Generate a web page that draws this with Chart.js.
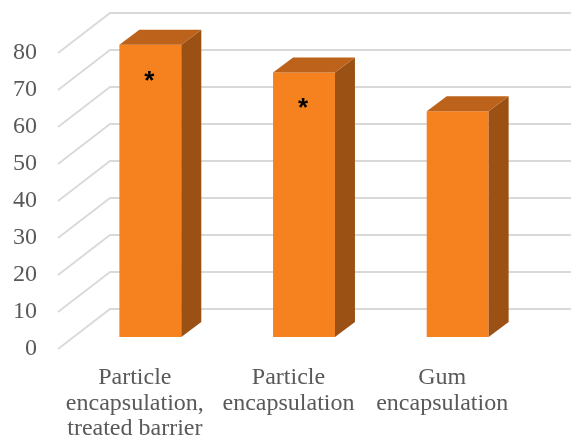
<!DOCTYPE html>
<html>
<head>
<meta charset="utf-8">
<script src="https://cdn.jsdelivr.net/npm/chart.js@4/dist/chart.umd.min.js"></script>
<style>
  html, body { margin: 0; padding: 0; background: #ffffff; }
  #wrap { width: 571px; height: 440px; }
</style>
</head>
<body>
<div id="wrap"><canvas id="c" width="571" height="440"></canvas></div>
<script>
// Categories (multi-line axis labels)
const categories = [
  ['Particle', 'encapsulation,', 'treated barrier'],
  ['Particle', 'encapsulation'],
  ['Gum', 'encapsulation']
];
// Bar heights
const values = [79, 71.5, 61];
// Significance markers printed on the bars
const significance = ['*', '*', ''];
// Value axis ticks
const yTicks = [0, 10, 20, 30, 40, 50, 60, 70, 80];

const FRONT = '#F5821F';
const TOP = '#BC621A';
const SIDE = '#9B5114';
const GRID = '#D9D9D9';
const TEXT = '#595959';
const LABEL_FONT = { family: "'Liberation Serif', 'Times New Roman', serif", size: 24, lineHeight: 1.07 };

const WALL = { dx: 52, dy: -40 };        // offset of the back wall from the front plane
const BAR_SHIFT = { dx: 15.5, dy: -12 }; // bars stand slightly behind the front plane
const BAR_DEPTH = { dx: 20, dy: -15 };   // thickness of each bar

const threeD = {
  id: 'threeD',
  beforeDatasetsDraw(chart) {
    const ctx = chart.ctx;
    const area = chart.chartArea;
    const y = chart.scales.y;
    ctx.save();
    ctx.strokeStyle = GRID;
    ctx.lineWidth = 1.8;
    yTicks.forEach(v => {
      const py = y.getPixelForValue(v);
      ctx.beginPath();
      ctx.moveTo(area.left, py);
      ctx.lineTo(area.left + WALL.dx, py + WALL.dy);
      ctx.lineTo(area.right + WALL.dx, py + WALL.dy);
      ctx.stroke();
    });
    ctx.restore();
    ctx.save();
    ctx.translate(BAR_SHIFT.dx, BAR_SHIFT.dy);
  },
  afterDatasetsDraw(chart) {
    const ctx = chart.ctx;
    ctx.restore();
    const meta = chart.getDatasetMeta(0);
    meta.data.forEach((bar, i) => {
      const p = bar.getProps(['x', 'y', 'base', 'width'], true);
      const l = p.x - p.width / 2 + BAR_SHIFT.dx;
      const r = p.x + p.width / 2 + BAR_SHIFT.dx;
      const t = p.y + BAR_SHIFT.dy;
      const b = p.base + BAR_SHIFT.dy;
      // right side face
      ctx.fillStyle = SIDE;
      ctx.beginPath();
      ctx.moveTo(r, t);
      ctx.lineTo(r + BAR_DEPTH.dx, t + BAR_DEPTH.dy);
      ctx.lineTo(r + BAR_DEPTH.dx, b + BAR_DEPTH.dy);
      ctx.lineTo(r, b);
      ctx.closePath();
      ctx.fill();
      // top face
      ctx.fillStyle = TOP;
      ctx.beginPath();
      ctx.moveTo(l, t);
      ctx.lineTo(l + BAR_DEPTH.dx, t + BAR_DEPTH.dy);
      ctx.lineTo(r + BAR_DEPTH.dx, t + BAR_DEPTH.dy);
      ctx.lineTo(r, t);
      ctx.closePath();
      ctx.fill();
      // significance marker
      const mark = significance[i];
      if (mark) {
        ctx.save();
        ctx.font = "bold 26px 'Liberation Sans', Arial, sans-serif";
        ctx.fillStyle = '#000000';
        ctx.textAlign = 'center';
        ctx.textBaseline = 'alphabetic';
        const m = ctx.measureText(mark);
        const cy = t + 31;
        const base = cy + (m.actualBoundingBoxAscent - m.actualBoundingBoxDescent) / 2;
        ctx.fillText(mark, (l + r) / 2 - 1, base);
        ctx.restore();
      }
    });
  }
};

new Chart(document.getElementById('c'), {
  type: 'bar',
  data: {
    labels: categories,
    datasets: [{
      data: values,
      backgroundColor: FRONT,
      borderWidth: 0,
      barPercentage: 0.403,
      categoryPercentage: 1.0,
      clip: false
    }]
  },
  options: {
    responsive: false,
    animation: false,
    devicePixelRatio: 1,
    layout: { padding: { top: 53, right: 52, bottom: 0, left: 0 } },
    plugins: {
      legend: { display: false },
      tooltip: { enabled: false }
    },
    scales: {
      x: {
        grid: { display: false, drawTicks: false },
        border: { display: false },
        ticks: { color: TEXT, font: LABEL_FONT, padding: 16, maxRotation: 0, autoSkip: false },
        afterFit(scale) { scale.height = 91; }
      },
      y: {
        min: 0,
        max: 80,
        grid: { display: false, drawTicks: false },
        border: { display: false },
        ticks: { color: TEXT, font: { family: LABEL_FONT.family, size: 24 }, padding: 21 },
        afterBuildTicks(scale) { scale.ticks = yTicks.map(v => ({ value: v })); },
        afterFit(scale) { scale.width = 58; }
      }
    }
  },
  plugins: [threeD]
});
</script>
</body>
</html>
